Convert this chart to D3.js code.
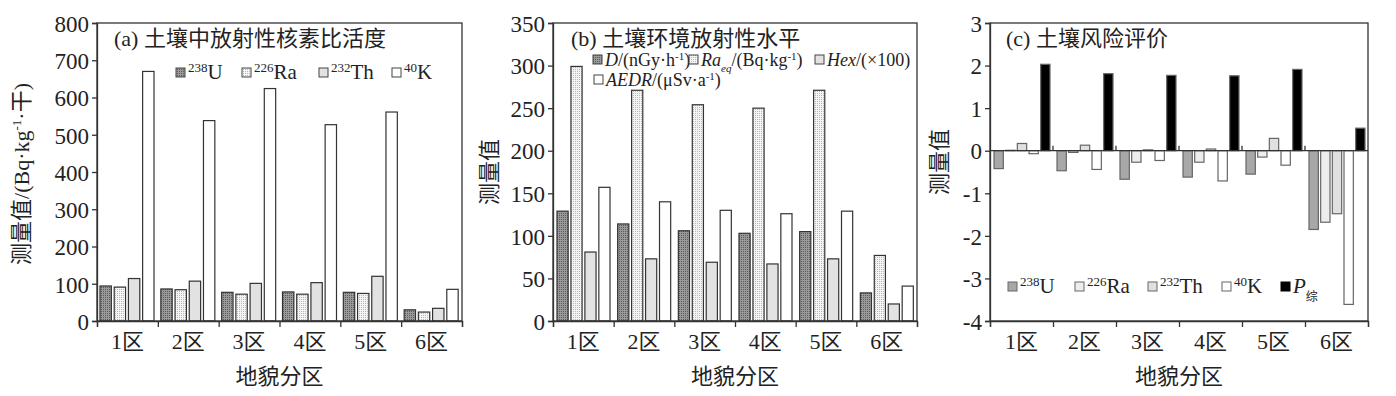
<!doctype html>
<html lang="zh">
<head>
<meta charset="UTF-8">
<title>土壤放射性</title>
<script src="https://d3js.org/d3.v7.min.js"></script>
<style>
  body { margin: 0; background: #fff; }
  svg text { font-family: "Liberation Serif", "Noto Sans CJK SC", serif; fill: #222; }
</style>
</head>
<body>
<div id="chart"></div>
<script>
  // categories
  const zones = ['1区', '2区', '3区', '4区', '5区', '6区'];

  // (a) 比活度
  const seriesA = ['U', 'Ra', 'Th', 'K'];
  const a_U  = [94, 86, 77, 78, 77, 30];
  const a_Ra = [91, 84, 72, 72, 74, 24];
  const a_Th = [114, 107, 101, 103, 120, 34];
  const a_K  = [670, 538, 624, 527, 561, 85];
  const ticksA = [0, 100, 200, 300, 400, 500, 600, 700, 800];

  // (b) 放射性水平
  const seriesB = ['D', 'Raeq', 'Hex', 'AEDR'];
  const b_D    = [129, 114, 106, 103, 105, 33];
  const b_Raeq = [299, 271, 254, 250, 271, 77];
  const b_Hex  = [81, 73, 69, 67, 73, 20];
  const b_AEDR = [157, 140, 130, 126, 129, 41];
  const ticksB = [0, 50, 100, 150, 200, 250, 300, 350];

  // (c) 风险评价
  const seriesC = ['U', 'Ra', 'Th', 'K', 'P'];
  const c_U  = [-0.42, -0.47, -0.67, -0.62, -0.55, -1.85];
  const c_Ra = [0.01, -0.04, -0.27, -0.27, -0.15, -1.68];
  const c_Th = [0.17, 0.13, 0.02, 0.04, 0.29, -1.48];
  const c_K  = [-0.07, -0.44, -0.23, -0.71, -0.34, -3.61];
  const c_P  = [2.03, 1.81, 1.77, 1.76, 1.91, 0.53];
  const ticksC = [-4, -3, -2, -1, 0, 1, 2, 3];

  const svg = d3.select('#chart').append('svg')
    .attr('width', 1396).attr('height', 396);

  const defs = svg.append('defs');
  function stipple(id, base, dot) {
    const p = defs.append('pattern').attr('id', id)
      .attr('patternUnits', 'userSpaceOnUse').attr('width', 2).attr('height', 2);
    p.append('rect').attr('width', 2).attr('height', 2).attr('fill', base);
    p.append('rect').attr('width', 1).attr('height', 1).attr('fill', dot);
  }
  stipple('patU', '#9a9a9a', '#5a5a5a');
  stipple('patRa', '#f4f4f4', '#b8b8b8');

  const fillsAB = ['url(#patU)', 'url(#patRa)', '#e2e2e2', '#ffffff'];
  const fillsC = ['#a8a8a8', '#ededed', '#e0e0e0', '#ffffff', '#000000'];

  function panel(opt) {
    const w = opt.right - opt.left;
    const h = opt.bottom - opt.top;
    const g = svg.append('g').attr('transform', `translate(${opt.left},${opt.top})`);

    const y = d3.scaleLinear().domain(opt.domain).range([h, 0]);
    const x0 = d3.scaleBand().domain(zones).range([0, w]);
    const x1 = d3.scaleBand().domain(opt.series).range(opt.inner).paddingInner(0.2);
    const xl = d3.scaleLinear().domain([0, zones.length]).range([0, w]);

    // bars
    zones.forEach((z, i) => {
      opt.series.forEach((s, j) => {
        const v = opt.values[j][i];
        g.append('rect')
          .attr('x', x0(z) + x1(s))
          .attr('y', y(Math.max(0, v)))
          .attr('width', x1.bandwidth())
          .attr('height', Math.abs(y(v) - y(0)))
          .attr('fill', opt.fills[j])
          .attr('stroke', opt.stroke)
          .attr('stroke-width', 1.2);
      });
    });

    // frame
    g.append('rect').attr('width', w).attr('height', h)
      .attr('fill', 'none').attr('stroke', '#333').attr('stroke-width', 1.3);

    // y axis
    const ya = g.append('g').call(d3.axisLeft(y).tickValues(opt.ticks).tickSize(5).tickFormat(d => String(d)));
    ya.selectAll('text').style('font-size', '23px').attr('dy', '0.36em');
    ya.selectAll('path, line').attr('stroke', '#333').attr('stroke-width', 1.3);

    // x ticks at zone boundaries
    const xt = g.append('g').attr('transform', `translate(0,${h})`)
      .call(d3.axisBottom(xl).ticks(6).tickSize(6).tickFormat(''));
    xt.selectAll('path, line').attr('stroke', '#333').attr('stroke-width', 1.3);

    // zone labels
    const xa = g.append('g').attr('transform', `translate(0,${h})`)
      .call(d3.axisBottom(x0).tickSize(0).tickPadding(12));
    xa.select('path').remove();
    xa.selectAll('text').style('font-size', '22px');

    if (opt.zeroLine) {
      g.append('line').attr('x1', 0).attr('x2', w).attr('y1', y(0)).attr('y2', y(0))
        .attr('stroke', '#333').attr('stroke-width', 1.3);
      d3.range(1, zones.length).forEach(k => {
        g.append('line').attr('x1', xl(k)).attr('x2', xl(k))
          .attr('y1', y(0)).attr('y2', y(0) - 5)
          .attr('stroke', '#333').attr('stroke-width', 1.3);
      });
    }

    // x title
    g.append('text').attr('x', w / 2).attr('y', h + 63)
      .attr('text-anchor', 'middle').style('font-size', '22px').text('地貌分区');

    // title
    g.append('text').attr('x', opt.titleX).attr('y', 23)
      .style('font-size', '22px').text(opt.title);

    return g;
  }

  // parts: {t, size, dy, it}
  function legendItem(g, x, yy, fill, stroke, fs, parts) {
    g.append('rect').attr('x', x).attr('y', yy - 5).attr('width', 9).attr('height', 9)
      .attr('fill', fill).attr('stroke', stroke).attr('stroke-width', 1);
    const t = g.append('text').attr('x', x + 12).attr('y', yy + 6).style('font-size', fs + 'px');
    parts.forEach(p => {
      const ts = t.append('tspan').text(p.t);
      if (p.size) ts.style('font-size', p.size + 'px');
      if (p.dy) ts.attr('dy', p.dy);
      if (p.it) ts.style('font-style', 'italic');
    });
  }
  const sup = s => ({ t: s, size: 13, dy: -7 });

  // panel a
  const la = panel({
    left: 97, right: 462, top: 23, bottom: 321,
    domain: [0, 800], ticks: ticksA, series: seriesA,
    values: [a_U, a_Ra, a_Th, a_K], fills: fillsAB, stroke: '#333',
    inner: [3, 57], title: '(a) 土壤中放射性核素比活度', titleX: 17
  });
  legendItem(la, 79, 50, 'url(#patU)', '#444', 21, [sup('238'), { t: 'U', dy: 7 }]);
  legendItem(la, 145, 50, 'url(#patRa)', '#444', 21, [sup('226'), { t: 'Ra', dy: 7 }]);
  legendItem(la, 222, 50, '#e2e2e2', '#444', 21, [sup('232'), { t: 'Th', dy: 7 }]);
  legendItem(la, 295, 50, '#fff', '#444', 21, [sup('40'), { t: 'K', dy: 7 }]);

  const yta = svg.append('text').attr('transform', 'translate(29,174) rotate(-90)')
    .attr('text-anchor', 'middle').style('font-size', '22px');
  yta.append('tspan').text('测量值/(Bq·kg');
  yta.append('tspan').text('-1').style('font-size', '13px').attr('dy', -8);
  yta.append('tspan').text('·干)').attr('dy', 8);

  // panel b
  const lb = panel({
    left: 553, right: 917, top: 23, bottom: 321,
    domain: [0, 350], ticks: ticksB, series: seriesB,
    values: [b_D, b_Raeq, b_Hex, b_AEDR], fills: fillsAB, stroke: '#333',
    inner: [4, 57], title: '(b) 土壤环境放射性水平', titleX: 18
  });
  legendItem(lb, 40, 37, 'url(#patU)', '#444', 18,
    [{ t: 'D', it: 1 }, { t: '/(nGy·h' }, { t: '-1', size: 11, dy: -6 }, { t: ')', dy: 6 }]);
  legendItem(lb, 136, 37, 'url(#patRa)', '#444', 18,
    [{ t: 'Ra', it: 1 }, { t: 'eq', it: 1, size: 11, dy: 6 }, { t: '/(Bq·kg', dy: -6 }, { t: '-1', size: 11, dy: -6 }, { t: ')', dy: 6 }]);
  legendItem(lb, 262, 37, '#e2e2e2', '#444', 18,
    [{ t: 'Hex', it: 1 }, { t: '/(×100)' }]);
  legendItem(lb, 41, 57, '#fff', '#444', 18,
    [{ t: 'AEDR', it: 1 }, { t: '/(μSv·a' }, { t: '-1', size: 11, dy: -6 }, { t: ')', dy: 6 }]);

  svg.append('text').attr('transform', 'translate(497,172) rotate(-90)')
    .attr('text-anchor', 'middle').style('font-size', '22px').text('测量值');

  // panel c
  const lc = panel({
    left: 990, right: 1368, top: 23, bottom: 321,
    domain: [-4, 3], ticks: ticksC, series: seriesC,
    values: [c_U, c_Ra, c_Th, c_K, c_P], fills: fillsC, stroke: '#666',
    inner: [4, 60], title: '(c) 土壤风险评价', titleX: 16, zeroLine: true
  });
  legendItem(lc, 18, 264, fillsC[0], '#666', 21, [sup('238'), { t: 'U', dy: 7 }]);
  legendItem(lc, 85, 264, fillsC[1], '#666', 21, [sup('226'), { t: 'Ra', dy: 7 }]);
  legendItem(lc, 158, 264, fillsC[2], '#666', 21, [{ t: ' ' }, sup('232'), { t: 'Th', dy: 7 }]);
  legendItem(lc, 232, 264, fillsC[3], '#666', 21, [{ t: ' ' }, sup('40'), { t: 'K', dy: 7 }]);
  legendItem(lc, 291, 264, fillsC[4], '#000', 21, [{ t: ' P', it: 1 }, { t: '综', size: 12, dy: 8 }]);

  svg.append('text').attr('transform', 'translate(947,162) rotate(-90)')
    .attr('text-anchor', 'middle').style('font-size', '22px').text('测量值');
</script>
</body>
</html>
